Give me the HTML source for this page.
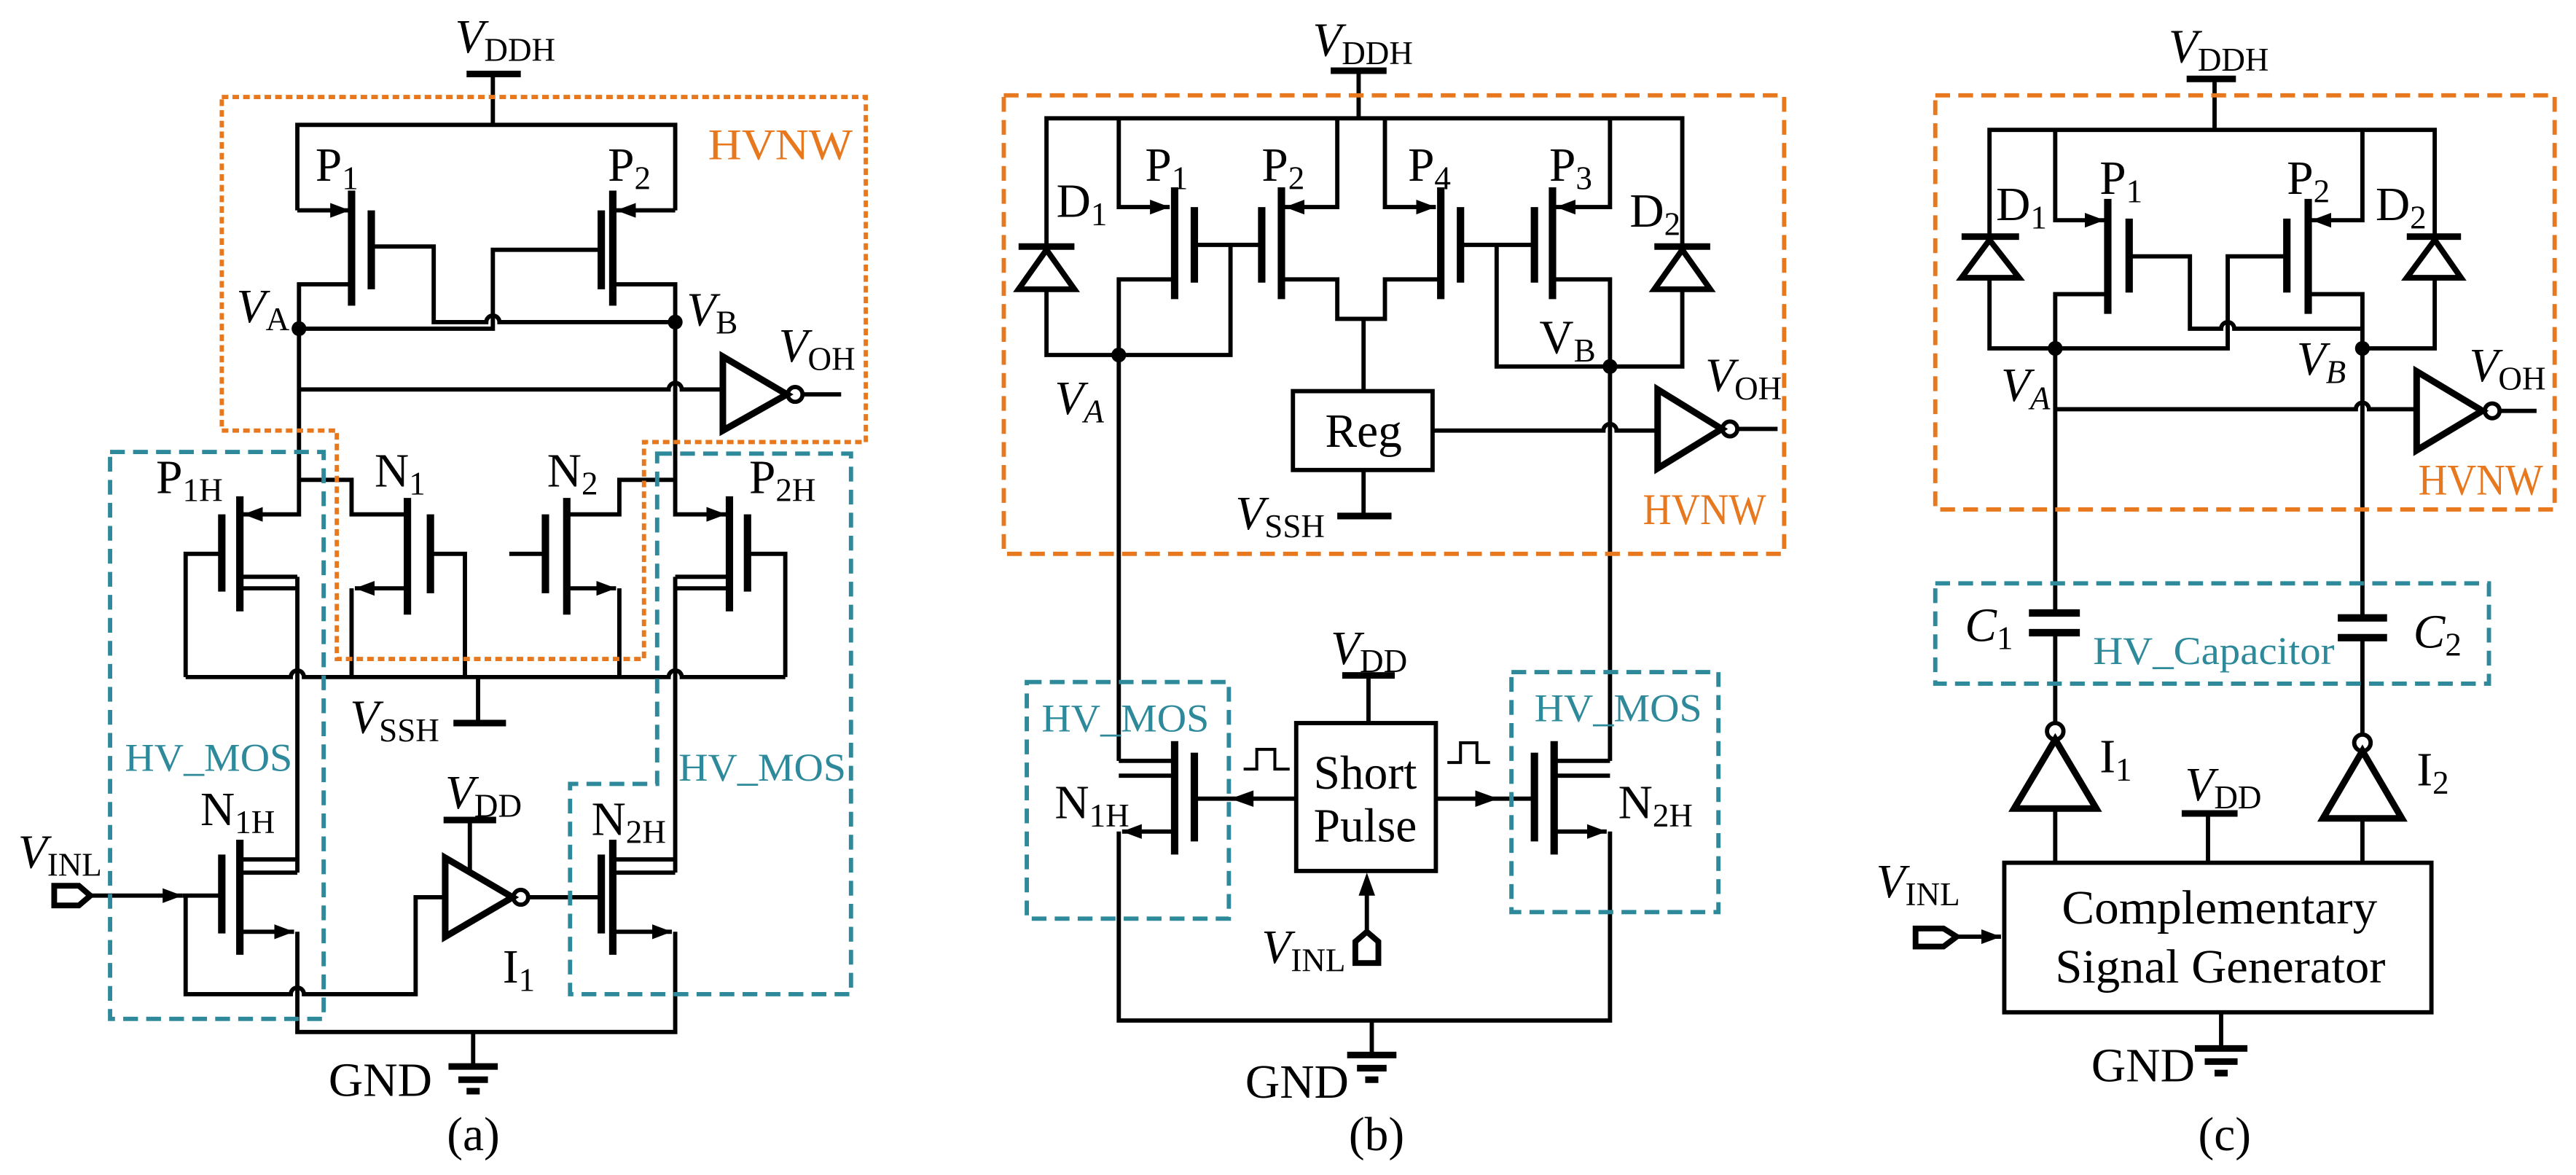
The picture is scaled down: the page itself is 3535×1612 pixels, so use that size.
<!DOCTYPE html>
<html><head><meta charset="utf-8"><style>
html,body{margin:0;padding:0;background:#fff}
svg{display:block}
svg text{font-family:"Liberation Serif","DejaVu Serif","Times New Roman",serif;font-size:29px;fill:#000}
.s{font-size:20px}
.i{font-style:italic}
.o{fill:#E8781E;font-size:27px}
.t{fill:#2E8A9A;font-size:24px}
</style></head><body>
<svg width="3535" height="1612" viewBox="0 0 1568 715" xmlns="http://www.w3.org/2000/svg">
<defs>
<marker id="a" markerUnits="userSpaceOnUse" markerWidth="13" markerHeight="10" refX="12" refY="4.5" orient="auto"><path d="M0,0 L12,4.5 L0,9 z" fill="#000"/></marker>
</defs>
<g stroke="#000" stroke-width="2.6" fill="none">
<!-- ===== (a) ===== -->
<path d="M300 45 V76"/><path d="M284 45 H317" stroke-width="4"/>
<path d="M181 128 V76 H411 V128"/>
<path d="M181 128 H213" marker-end="url(#a)"/>
<path d="M411 128 H375" marker-end="url(#a)"/>
<path d="M214 116 V186 M226 128 V176 M373 116 V186 M366 128 V176" stroke-width="4.5"/>
<path d="M214 173 H182 V313 H148" marker-end="url(#a)"/>
<path d="M226 150 H264 V196 H296 A4 4 0 0 1 304 196 H411"/>
<path d="M182 200 H300 V152 H366"/>
<path d="M373 173 H411 V313 H442" marker-end="url(#a)"/>
<path d="M182 237 H407 A4 4 0 0 1 415 237 H440"/>
<polygon points="440,217 440,262 479,240" stroke-width="4"/>
<circle cx="484" cy="240" r="4.5"/><path d="M489 240 H512"/>
<path d="M182 292 H214 V313 H247"/>
<path d="M248 303 V374 M262 313 V361 M345 303 V374 M332 313 V361 M146 302 V372 M135 313 V360 M444 302 V372 M455 313 V360" stroke-width="4.5"/>
<path d="M262 337 H283 V412"/>
<path d="M248 358 H216" marker-end="url(#a)"/><path d="M214 358 V412"/>
<path d="M345 313 H377 V292 H411"/>
<path d="M332 337 H310"/>
<path d="M345 358 H375" marker-end="url(#a)"/><path d="M377 358 V412"/>
<path d="M135 337 H113 V412"/>
<path d="M146 351 H181 M146 358 H181 M181 351 V531"/>
<path d="M455 337 H478 V412"/>
<path d="M444 351 H411 M444 358 H411 M411 351 V531"/>
<path d="M113 412 H177 A4 4 0 0 1 185 412 H407 A4 4 0 0 1 415 412 H478"/>
<path d="M291 412 V440"/><path d="M276 440 H308" stroke-width="4"/>
<path d="M146 511 V581 M135 520 V568 M373 511 V581 M366 520 V568" stroke-width="4.5"/>
<path d="M146 523 H181 M146 531 H181"/>
<path d="M146 567 H179" marker-end="url(#a)"/>
<polygon points="33,539 48,539 55,545 48,551 33,551" stroke-width="3.5"/>
<path d="M55 545 H111" marker-end="url(#a)"/><path d="M111 545 H135"/>
<path d="M113 545 V605 H177 A4 4 0 0 1 185 605 H253 V546 H271"/>
<polygon points="271,522 271,570 312,546" stroke-width="4"/>
<circle cx="317" cy="546" r="4.5"/><path d="M286 531 V499"/><path d="M270 499 H302" stroke-width="4"/>
<path d="M322 546 H366"/>
<path d="M373 523 H411 M373 531 H411"/>
<path d="M373 567 H409" marker-end="url(#a)"/>
<path d="M181 567 V628 H411 V567"/>
<path d="M288 628 V648"/><path d="M273 649 H303 M279 657 H297 M284 664 H292" stroke-width="4"/>
<path d="M135 59 H527 V269 H392 V401 H205 V262 H135 Z" stroke="#E8781E" stroke-dasharray="4 2.5"/>
<rect x="67" y="275" width="130" height="345" stroke="#2E8A9A" stroke-dasharray="9 5"/>
<path d="M400 276 H518 V605 H347 V477 H400 Z" stroke="#2E8A9A" stroke-dasharray="9 5"/>

<!-- ===== (b) ===== -->
<path d="M827 43 V72"/><path d="M810 43 H844" stroke-width="4"/>
<path d="M637 150 V72 H1024 V150"/>
<path d="M681 72 V126 H712" marker-end="url(#a)"/>
<path d="M814 72 V126 H782" marker-end="url(#a)"/>
<path d="M843 72 V126 H874" marker-end="url(#a)"/>
<path d="M980 72 V126 H947" marker-end="url(#a)"/>
<polygon points="637,152 620,176 654,176" stroke-width="3.5"/><path d="M620 150 H654" stroke-width="4"/>
<polygon points="1024,152 1007,176 1041,176" stroke-width="3.5"/><path d="M1007 150 H1041" stroke-width="4"/>
<path d="M637 176 V216 H749 V149"/>
<path d="M715 114 V182 M727 126 V172 M780 114 V182 M768 126 V172 M877 114 V182 M889 126 V172 M945 114 V182 M934 126 V172" stroke-width="4.5"/>
<path d="M727 149 H768"/>
<path d="M715 170 H681 V463"/>
<path d="M780 170 H814 V194 H843 V170 H877"/>
<path d="M830 194 V238"/>
<path d="M889 149 H934 M911 149 V223 H1024 V176"/>
<path d="M945 170 H980 V463"/>
<rect x="787" y="238" width="85" height="48"/>
<path d="M872 262 H976 A4 4 0 0 1 984 262 H1009"/>
<polygon points="1009,237 1009,285 1048,261" stroke-width="4"/>
<circle cx="1053" cy="261" r="4.5"/><path d="M1058 261 H1082"/>
<path d="M830 286 V314"/><path d="M814 314 H847" stroke-width="4"/>
<path d="M715 451 V520 M727 458 V512 M946 451 V520 M934 458 V512" stroke-width="4.5"/>
<path d="M681 463 H715 M681 472 H715"/>
<path d="M789 486 H727"/>
<path d="M715 506 H683" marker-end="url(#a)"/>
<path d="M681 506 V621 H980 V506"/>
<path d="M874 486 H934"/>
<path d="M946 463 H980 M946 472 H980"/>
<path d="M946 506 H978" marker-end="url(#a)"/>
<rect x="789" y="440" width="85" height="90"/>
<path d="M833 440 V411"/><path d="M817 411 H849" stroke-width="4"/>
<polygon points="825,586 825,573 832,567 839,573 839,586" stroke-width="3.5"/>
<path d="M832 567 V540"/>
<path d="M757 468 H765 V456 H776 V468 H785 M881 464 H889 V452 H899 V464 H907" stroke-width="1.8"/>
<path d="M835 621 V641"/><path d="M820 642 H850 M826 650 H844 M831 657 H839" stroke-width="4"/>
<rect x="611" y="58" width="475" height="279" stroke="#E8781E" stroke-dasharray="9 5"/>
<rect x="625" y="415" width="123" height="144" stroke="#2E8A9A" stroke-dasharray="9 5"/>
<rect x="920" y="409" width="126" height="146" stroke="#2E8A9A" stroke-dasharray="9 5"/>

<!-- ===== (c) ===== -->
<path d="M1348 48 V79"/><path d="M1331 48 H1361" stroke-width="4"/>
<path d="M1211 144 V79 H1482 V144"/>
<path d="M1251 79 V134 H1281" marker-end="url(#a)"/>
<path d="M1438 79 V134 H1407" marker-end="url(#a)"/>
<polygon points="1211,146 1194,169 1229,169" stroke-width="3.5"/><path d="M1194 144 H1229" stroke-width="4"/>
<polygon points="1482,146 1465,169 1498,169" stroke-width="3.5"/><path d="M1465 144 H1498" stroke-width="4"/>
<path d="M1211 169 V212 H1356 V156 H1392"/>
<path d="M1283 121 V191 M1296 133 V178 M1405 121 V191 M1392 133 V178" stroke-width="4.5"/>
<path d="M1296 156 H1333 V200 H1352 A4 4 0 0 1 1360 200 H1438"/>
<path d="M1283 179 H1251 V373"/>
<path d="M1405 179 H1438 V376"/>
<path d="M1482 169 V212 H1438"/>
<path d="M1251 249 H1434 A4 4 0 0 1 1442 249 H1471"/>
<polygon points="1471,226 1471,274 1511,250" stroke-width="4"/>
<circle cx="1517" cy="250" r="4.5"/><path d="M1522 250 H1544"/>
<path d="M1235 373 H1266 M1235 385 H1266 M1423 376 H1453 M1423 388 H1453" stroke-width="4.5"/>
<path d="M1251 385 V440 M1438 388 V447"/>
<circle cx="1251" cy="445" r="5"/><polygon points="1251,450 1226,492 1276,492" stroke-width="4"/><path d="M1251 492 V525"/>
<circle cx="1438" cy="452" r="5"/><polygon points="1438,457 1414,498 1462,498" stroke-width="4"/><path d="M1438 498 V525"/>
<path d="M1344 525 V495"/><path d="M1328 495 H1362" stroke-width="4"/>
<rect x="1220" y="525" width="260" height="91"/>
<polygon points="1166,565 1183,565 1191,570 1183,576 1166,576" stroke-width="3.5"/>
<path d="M1191 570 H1218" marker-end="url(#a)"/>
<path d="M1352 616 V637"/><path d="M1336 638 H1368 M1342 646 H1362 M1348 653 H1356" stroke-width="4"/>
<rect x="1178" y="58" width="377" height="252" stroke="#E8781E" stroke-dasharray="9 5"/>
<rect x="1178" y="355" width="337" height="61" stroke="#2E8A9A" stroke-dasharray="9 5"/>
</g>
<g fill="#000" stroke="none">
<circle cx="182" cy="200" r="4.5"/><circle cx="411" cy="196" r="4.5"/>
<circle cx="681" cy="216" r="4.5"/><circle cx="980" cy="223" r="4.5"/>
<circle cx="1251" cy="212" r="4.5"/><circle cx="1438" cy="212" r="4.5"/>
<polygon points="749,486 763,481 763,491"/>
<polygon points="912,486 898,481 898,491"/>
<polygon points="832,531 827,545 837,545"/>
</g>

<g>
<!-- text (a) -->
<text x="277" y="32"><tspan class="i">V</tspan><tspan class="s" dy="5">DDH</tspan></text>
<text x="192" y="110">P<tspan class="s" dy="5">1</tspan></text>
<text x="370" y="110">P<tspan class="s" dy="5">2</tspan></text>
<text x="431" y="97" class="o" textLength="88" lengthAdjust="spacingAndGlyphs">HVNW</text>
<text x="144" y="196"><tspan class="i">V</tspan><tspan class="s" dy="5">A</tspan></text>
<text x="418" y="198"><tspan class="i">V</tspan><tspan class="s" dy="5">B</tspan></text>
<text x="474" y="220"><tspan class="i">V</tspan><tspan class="s" dy="5">OH</tspan></text>
<text x="95" y="300">P<tspan class="s" dy="5">1H</tspan></text>
<text x="228" y="296">N<tspan class="s" dy="5">1</tspan></text>
<text x="333" y="296">N<tspan class="s" dy="5">2</tspan></text>
<text x="456" y="300">P<tspan class="s" dy="5">2H</tspan></text>
<text x="213" y="446"><tspan class="i">V</tspan><tspan class="s" dy="5">SSH</tspan></text>
<text x="76" y="469" class="t" textLength="102" lengthAdjust="spacingAndGlyphs">HV_MOS</text>
<text x="413" y="475" class="t" textLength="102" lengthAdjust="spacingAndGlyphs">HV_MOS</text>
<text x="11" y="528"><tspan class="i">V</tspan><tspan class="s" dy="5">INL</tspan></text>
<text x="122" y="502">N<tspan class="s" dy="5">1H</tspan></text>
<text x="271" y="492"><tspan class="i">V</tspan><tspan class="s" dy="5">DD</tspan></text>
<text x="360" y="508">N<tspan class="s" dy="5">2H</tspan></text>
<text x="306" y="598">I<tspan class="s" dy="5">1</tspan></text>
<text x="200" y="667" textLength="63" lengthAdjust="spacingAndGlyphs">GND</text>
<text x="272" y="700">(a)</text>

<!-- text (b) -->
<text x="799" y="34"><tspan class="i">V</tspan><tspan class="s" dy="5">DDH</tspan></text>
<text x="643" y="132">D<tspan class="s" dy="5">1</tspan></text>
<text x="697" y="110">P<tspan class="s" dy="5">1</tspan></text>
<text x="768" y="110">P<tspan class="s" dy="5">2</tspan></text>
<text x="857" y="110">P<tspan class="s" dy="5">4</tspan></text>
<text x="943" y="110">P<tspan class="s" dy="5">3</tspan></text>
<text x="992" y="138">D<tspan class="s" dy="5">2</tspan></text>
<text x="937" y="215">V<tspan class="s" dy="5">B</tspan></text>
<text x="642" y="252"><tspan class="i">V</tspan><tspan class="s i" dy="5">A</tspan></text>
<text x="1038" y="238"><tspan class="i">V</tspan><tspan class="s" dy="5">OH</tspan></text>
<text x="830" y="272" text-anchor="middle">Reg</text>
<text x="752" y="322"><tspan class="i">V</tspan><tspan class="s" dy="5">SSH</tspan></text>
<text x="1000" y="319" class="o" textLength="75" lengthAdjust="spacingAndGlyphs">HVNW</text>
<text x="810" y="404"><tspan class="i">V</tspan><tspan class="s" dy="5">DD</tspan></text>
<text x="634" y="445" class="t" textLength="102" lengthAdjust="spacingAndGlyphs">HV_MOS</text>
<text x="934" y="439" class="t" textLength="102" lengthAdjust="spacingAndGlyphs">HV_MOS</text>
<text x="642" y="498">N<tspan class="s" dy="5">1H</tspan></text>
<text x="985" y="498">N<tspan class="s" dy="5">2H</tspan></text>
<text x="831" y="480" text-anchor="middle">Short</text>
<text x="831" y="512" text-anchor="middle">Pulse</text>
<text x="768" y="586"><tspan class="i">V</tspan><tspan class="s" dy="5">INL</tspan></text>
<text x="758" y="668" textLength="63" lengthAdjust="spacingAndGlyphs">GND</text>
<text x="821" y="700">(b)</text>

<!-- text (c) -->
<text x="1320" y="38"><tspan class="i">V</tspan><tspan class="s" dy="5">DDH</tspan></text>
<text x="1215" y="134">D<tspan class="s" dy="5">1</tspan></text>
<text x="1278" y="118">P<tspan class="s" dy="5">1</tspan></text>
<text x="1392" y="118">P<tspan class="s" dy="5">2</tspan></text>
<text x="1446" y="134">D<tspan class="s" dy="5">2</tspan></text>
<text x="1218" y="244"><tspan class="i">V</tspan><tspan class="s i" dy="5">A</tspan></text>
<text x="1398" y="228"><tspan class="i">V</tspan><tspan class="s i" dy="5">B</tspan></text>
<text x="1503" y="232"><tspan class="i">V</tspan><tspan class="s" dy="5">OH</tspan></text>
<text x="1472" y="301" class="o" textLength="76" lengthAdjust="spacingAndGlyphs">HVNW</text>
<text x="1196" y="390"><tspan class="i">C</tspan><tspan class="s" dy="5">1</tspan></text>
<text x="1469" y="394"><tspan class="i">C</tspan><tspan class="s" dy="5">2</tspan></text>
<text x="1274" y="404" class="t" textLength="147" lengthAdjust="spacingAndGlyphs">HV_Capacitor</text>
<text x="1278" y="470">I<tspan class="s" dy="5">1</tspan></text>
<text x="1471" y="478">I<tspan class="s" dy="5">2</tspan></text>
<text x="1330" y="487"><tspan class="i">V</tspan><tspan class="s" dy="5">DD</tspan></text>
<text x="1255" y="562" textLength="192" lengthAdjust="spacingAndGlyphs">Complementary</text>
<text x="1251" y="598" textLength="201" lengthAdjust="spacingAndGlyphs">Signal Generator</text>
<text x="1142" y="546"><tspan class="i">V</tspan><tspan class="s" dy="5">INL</tspan></text>
<text x="1273" y="658" textLength="63" lengthAdjust="spacingAndGlyphs">GND</text>
<text x="1338" y="700">(c)</text>
</g>
</svg>
</body></html>
